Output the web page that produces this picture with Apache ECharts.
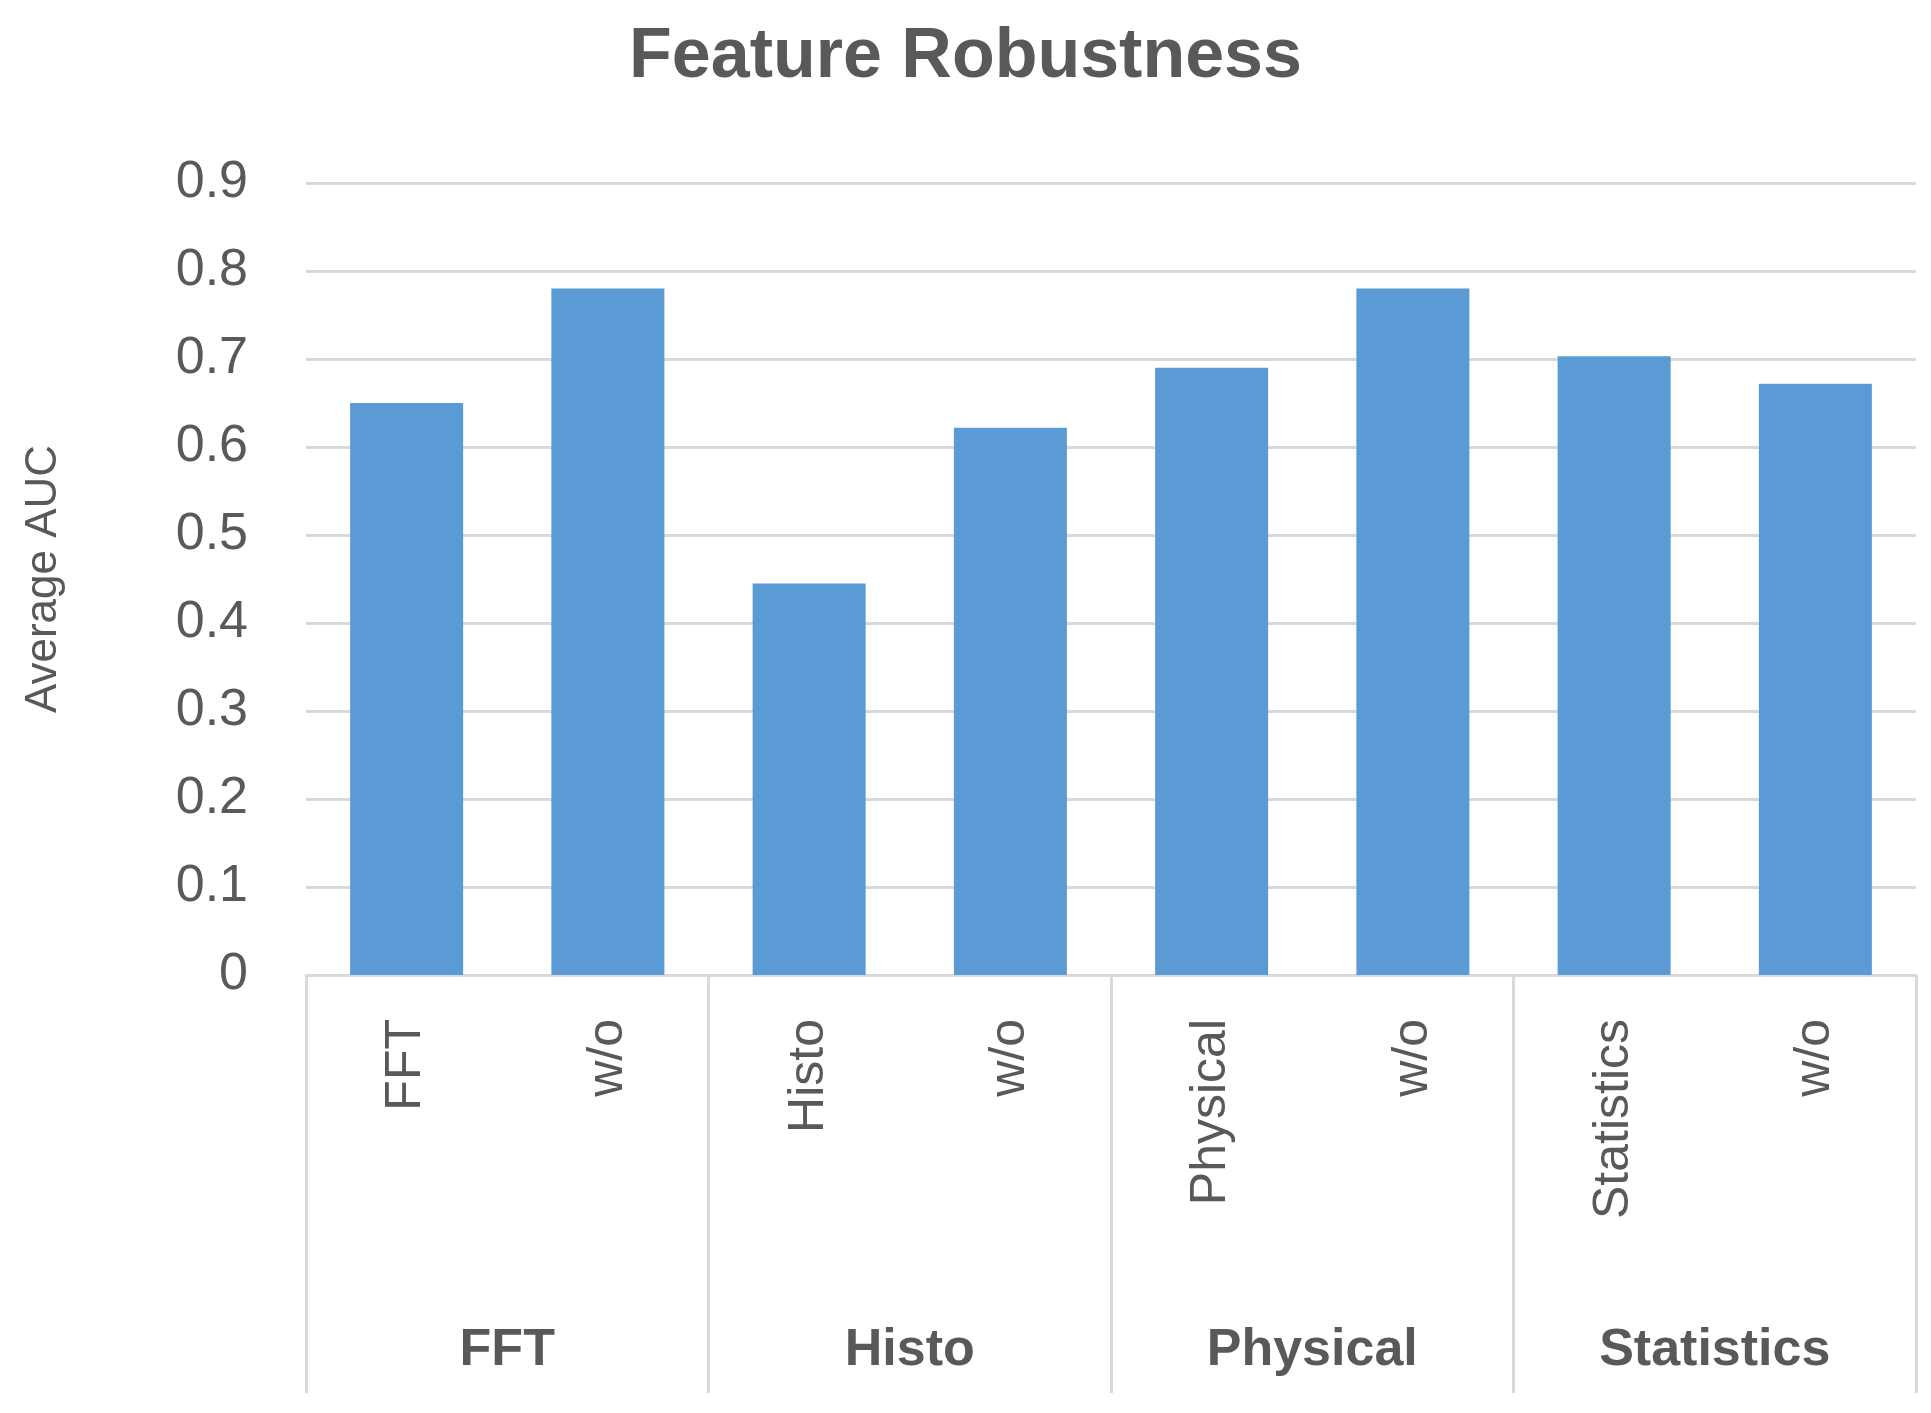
<!DOCTYPE html>
<html><head><meta charset="utf-8">
<script src="https://cdn.jsdelivr.net/npm/echarts@6/dist/echarts.min.js"></script>
<style>html,body{margin:0;background:#fff}#c{width:1931px;height:1413px}</style>
</head><body><div id="c"></div>
<script>
var barLabels = ['FFT', 'w/o', 'Histo', 'w/o', 'Physical', 'w/o', 'Statistics', 'w/o'];
var groupLabels = ['FFT', 'Histo', 'Physical', 'Statistics'];
var aucValues = [0.65, 0.78, 0.445, 0.622, 0.69, 0.78, 0.703, 0.672];

var chart = echarts.init(document.getElementById('c'));
var txt = '#595959', grey = '#d9d9d9', ff = 'Liberation Sans';
chart.setOption({
  title: {
    text: 'Feature Robustness', left: 'center', top: 18,
    textStyle: { fontFamily: ff, fontSize: 70, fontWeight: 'bold', color: txt }
  },
  grid: { left: 306, right: 15, top: 183, bottom: 438 },
  xAxis: [{
    type: 'category', data: barLabels,
    axisLine: { lineStyle: { color: grey, width: 3 } },
    axisTick: { show: false },
    axisLabel: { rotate: 90, margin: 44, fontFamily: ff, fontSize: 50, color: txt }
  }, {
    type: 'category', data: groupLabels, position: 'bottom',
    axisLine: { show: false },
    axisTick: { show: true, length: 418, lineStyle: { color: grey, width: 3 } },
    axisLabel: { margin: 350, fontFamily: ff, fontSize: 52, fontWeight: 'bold', color: txt }
  }],
  yAxis: {
    type: 'value', min: 0, max: 0.9, interval: 0.1,
    name: 'Average AUC', nameLocation: 'middle', nameGap: 240,
    nameTextStyle: { fontFamily: ff, fontSize: 44, color: txt },
    axisLine: { show: false }, axisTick: { show: false },
    axisLabel: {
      margin: 58, fontFamily: ff, fontSize: 52, color: txt,
      formatter: function (v) { return v === 0 ? '0' : v.toFixed(1); }
    },
    splitLine: { lineStyle: { color: grey, width: 3 } }
  },
  series: [{
    type: 'bar', data: aucValues, barWidth: 113,
    itemStyle: { color: '#5b9bd5' }
  }]
});
</script></body></html>
